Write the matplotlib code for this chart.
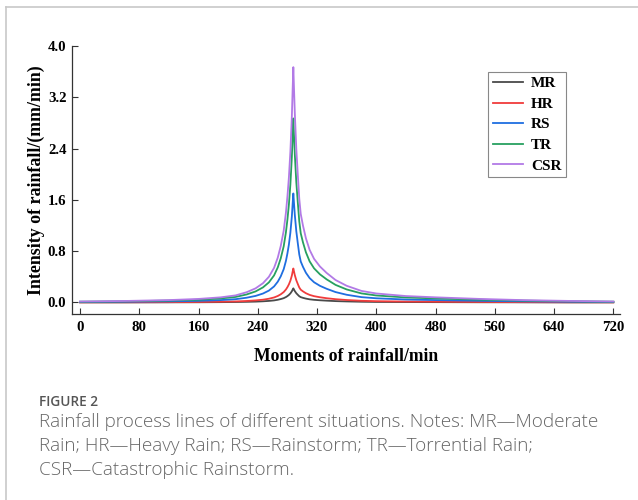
import matplotlib
matplotlib.use("Agg")
import matplotlib.pyplot as plt
from matplotlib.lines import Line2D

# ---- data ----
minutes = [0, 60, 120, 160, 190, 210, 225, 237, 247, 255,
           262, 267, 271, 275, 278, 280, 282, 284, 286, 287,
           288,
           289, 290, 292, 294, 296, 298, 301, 305, 310,
           316, 324, 333, 345, 360, 380, 400, 440, 480, 540,
           600, 660, 720]

CSR = [0.015, 0.023, 0.037, 0.055, 0.08, 0.11, 0.16, 0.22, 0.30, 0.40,
       0.54, 0.70, 0.88, 1.12, 1.40, 1.65, 1.95, 2.35, 2.90, 3.30,
       3.67,
       3.30, 2.95, 2.40, 2.00, 1.62, 1.38, 1.20, 1.00, 0.82,
       0.68, 0.56, 0.46, 0.35, 0.26, 0.18, 0.14, 0.10, 0.08, 0.055,
       0.036, 0.024, 0.015]
TR = [0.012, 0.018, 0.029, 0.043, 0.063, 0.086, 0.125, 0.172, 0.235, 0.313,
      0.422, 0.547, 0.688, 0.876, 1.095, 1.290, 1.525, 1.838, 2.268, 2.581,
      2.87,
      2.581, 2.307, 1.877, 1.564, 1.267, 1.079, 0.938, 0.782, 0.641,
      0.532, 0.438, 0.360, 0.274, 0.203, 0.141, 0.109, 0.078, 0.063, 0.043,
      0.028, 0.019, 0.012]
RS = [0.007, 0.011, 0.017, 0.025, 0.037, 0.051, 0.074, 0.102, 0.139, 0.185,
      0.250, 0.324, 0.407, 0.519, 0.648, 0.764, 0.903, 1.088, 1.343, 1.528,
      1.70,
      1.528, 1.366, 1.111, 0.926, 0.750, 0.639, 0.556, 0.463, 0.380,
      0.315, 0.259, 0.213, 0.162, 0.120, 0.083, 0.065, 0.046, 0.037, 0.025,
      0.017, 0.011, 0.007]
HR = [0.002, 0.003, 0.005, 0.008, 0.012, 0.016, 0.023, 0.032, 0.043, 0.058,
      0.078, 0.101, 0.127, 0.162, 0.202, 0.238, 0.282, 0.339, 0.419, 0.477,
      0.53,
      0.477, 0.426, 0.347, 0.289, 0.234, 0.199, 0.173, 0.144, 0.118,
      0.098, 0.081, 0.066, 0.051, 0.038, 0.026, 0.020, 0.014, 0.012, 0.008,
      0.005, 0.003, 0.002]
MR = [0.001, 0.001, 0.002, 0.003, 0.005, 0.007, 0.010, 0.013, 0.018, 0.024,
      0.032, 0.042, 0.053, 0.067, 0.084, 0.099, 0.117, 0.141, 0.174, 0.198,
      0.22,
      0.198, 0.177, 0.144, 0.120, 0.097, 0.083, 0.072, 0.060, 0.049,
      0.041, 0.034, 0.028, 0.021, 0.016, 0.011, 0.008, 0.006, 0.005, 0.003,
      0.002, 0.001, 0.001]

series_names = ["MR", "HR", "RS", "TR", "CSR"]
series_values = [MR, HR, RS, TR, CSR]
series_colors = ["#4a4a4a", "#f03c3c", "#1f6ee0", "#27a060", "#b27ae6"]

x_ticks = [0, 80, 160, 240, 320, 400, 480, 560, 640, 720]
y_ticks = [0.0, 0.8, 1.6, 2.4, 3.2, 4.0]

# ---- figure ----
fig = plt.figure(figsize=(6.38, 5.0), dpi=100)
fig.patch.set_facecolor("white")

ax = fig.add_axes([72 / 638, 1 - 314 / 500, (620 - 72) / 638, (314 - 46) / 500])

serif = ["Liberation Serif", "DejaVu Serif"]

for name, vals, col in zip(series_names, series_values, series_colors):
    ax.plot(minutes, vals, color=col, lw=1.3, label=name, solid_joinstyle="round")

ax.set_xlim(-10.8, 729)
ax.set_ylim(-0.18, 4.0)
ax.set_xticks(x_ticks)
ax.set_yticks(y_ticks)
ax.set_xticklabels([str(v) for v in x_ticks], family=serif, fontweight="bold", fontsize=10.7)
ax.set_yticklabels([f"{v:.1f}" for v in y_ticks], family=serif, fontweight="bold", fontsize=10.7)
ax.tick_params(axis="x", direction="in", length=4, width=0.8, colors="#333333", pad=5)
ax.tick_params(axis="y", direction="in", length=4, width=0.8, colors="#333333", pad=4)
for lab in ax.get_xticklabels() + ax.get_yticklabels():
    lab.set_color("black")

for side in ["top", "right"]:
    ax.spines[side].set_visible(False)
for side in ["left", "bottom"]:
    ax.spines[side].set_color("#333333")
    ax.spines[side].set_linewidth(0.9)

ax.set_xlabel("Moments of rainfall/min", family=serif, fontweight="bold", fontsize=12.7, labelpad=10)
ax.set_ylabel("Intensity of rainfall/(mm/min)", family=serif, fontweight="bold", fontsize=12.9, labelpad=2)

leg = ax.legend(loc="upper left", bbox_to_anchor=((488 - 72) / 548, 1 - (72 - 46) / 268),
                frameon=True, fancybox=False, edgecolor="#888888", framealpha=1,
                prop={"family": serif, "weight": "bold", "size": 11},
                handlelength=2.0, handletextpad=0.5, labelspacing=0.45, borderpad=0.3,
                borderaxespad=0)
leg.get_frame().set_linewidth(0.8)

# page frame
fig.add_artist(Line2D([6 / 638, 6 / 638], [0, 1 - 7 / 500], transform=fig.transFigure,
                      color="#c8c8c8", lw=1.2))
fig.add_artist(Line2D([6 / 638, 1], [1 - 7 / 500, 1 - 7 / 500], transform=fig.transFigure,
                      color="#c8c8c8", lw=1.2))

# caption
cap_font = ["Open Sans", "DejaVu Sans"]
fig.text(39 / 638, 1 - 402 / 500, "FIGURE 2", family=cap_font, fontsize=9.8, color="#555555",
         va="center", ha="left", fontweight="semibold")
cap_lines = ["Rainfall process lines of different situations. Notes: MR\u2014Moderate",
             "Rain; HR\u2014Heavy Rain; RS\u2014Rainstorm; TR\u2014Torrential Rain;",
             "CSR\u2014Catastrophic Rainstorm."]
for i, line in enumerate(cap_lines):
    fig.text(39 / 638, 1 - (422 + 24 * i) / 500, line, family=cap_font, fontsize=13.6,
             color="#666666", va="center", ha="left", fontweight="light")

fig.savefig("out.png", dpi=100, facecolor="white")
